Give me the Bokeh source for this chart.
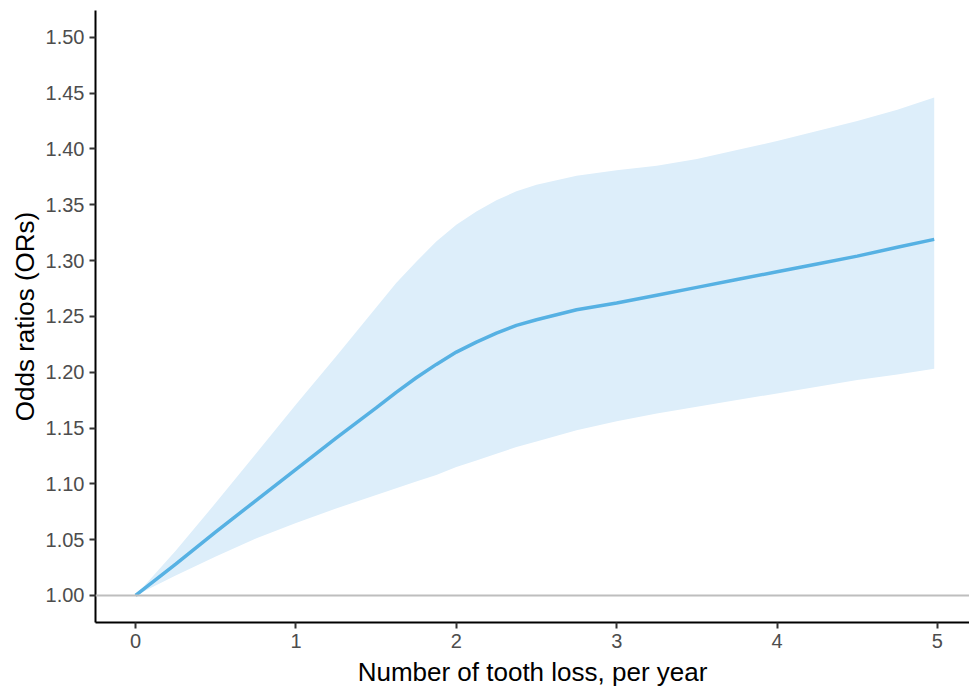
from bokeh.plotting import figure
from bokeh.models import Range1d, FixedTicker, NumeralTickFormatter, Span
from bokeh.embed import file_html
from bokeh.resources import INLINE

x_vals = [0, 0.25, 0.5, 0.75, 1.0, 1.25, 1.5, 1.625, 1.75, 1.875, 2.0, 2.125, 2.25,
          2.375, 2.5, 2.75, 3.0, 3.25, 3.5, 3.75, 4.0, 4.25, 4.5, 4.75, 4.98]
or_vals = [1.000, 1.028, 1.057, 1.085, 1.113, 1.141, 1.168, 1.182, 1.195, 1.207,
           1.218, 1.227, 1.235, 1.242, 1.247, 1.256, 1.262, 1.269, 1.276, 1.283,
           1.290, 1.297, 1.304, 1.312, 1.319]
upper_vals = [1.000, 1.040, 1.083, 1.127, 1.171, 1.214, 1.258, 1.280, 1.299, 1.317,
              1.332, 1.344, 1.354, 1.362, 1.368, 1.376, 1.381, 1.385, 1.391, 1.399,
              1.407, 1.416, 1.425, 1.435, 1.446]
lower_vals = [1.000, 1.018, 1.035, 1.051, 1.065, 1.078, 1.090, 1.096, 1.102, 1.108,
              1.115, 1.121, 1.127, 1.133, 1.138, 1.148, 1.156, 1.163, 1.169, 1.175,
              1.181, 1.187, 1.193, 1.198, 1.203]
x_ticks = [0, 1, 2, 3, 4, 5]
y_ticks = [1.00, 1.05, 1.10, 1.15, 1.20, 1.25, 1.30, 1.35, 1.40, 1.45, 1.50]
reference_or = 1.0

FONT = "Liberation Sans"

p = figure(width=969, height=689, output_backend="svg", toolbar_location=None,
           x_range=Range1d(-0.25, 5.2), y_range=Range1d(0.9758, 1.524),
           min_border_left=95, min_border_bottom=66, min_border_top=10, min_border_right=0)
p.outline_line_color = None
p.xgrid.visible = False
p.ygrid.visible = False
p.background_fill_color = "white"

p.varea(x=x_vals, y1=lower_vals, y2=upper_vals, fill_color="#ddeefa", fill_alpha=1.0)
p.add_layout(Span(location=reference_or, dimension="width", line_color="#bebebe", line_width=2))
p.line(x_vals, or_vals, line_color="#56b1e3", line_width=3.5)

for ax in (p.xaxis[0], p.yaxis[0]):
    ax.axis_line_color = "black"
    ax.axis_line_width = 2
    ax.major_tick_line_color = "#333333"
    ax.major_tick_line_width = 2
    ax.major_tick_in = 0
    ax.major_tick_out = 6
    ax.minor_tick_line_color = None
    ax.major_label_text_font = FONT
    ax.major_label_text_font_size = "20px"
    ax.major_label_text_color = "#4d4d4d"
    ax.axis_label_text_font = FONT
    ax.axis_label_text_font_size = "26px"
    ax.axis_label_text_font_style = "normal"
    ax.axis_label_text_color = "black"
    ax.major_label_standoff = 5

p.xaxis.ticker = FixedTicker(ticks=x_ticks)
p.yaxis.ticker = FixedTicker(ticks=y_ticks)
p.yaxis.formatter = NumeralTickFormatter(format="0.00")
p.xaxis.axis_label = "Number of tooth loss, per year"
p.yaxis.axis_label = "Odds ratios (ORs)"
p.xaxis.axis_label_standoff = 6
p.yaxis.axis_label_standoff = 3

open("out.html", "w").write(file_html(p, INLINE))
